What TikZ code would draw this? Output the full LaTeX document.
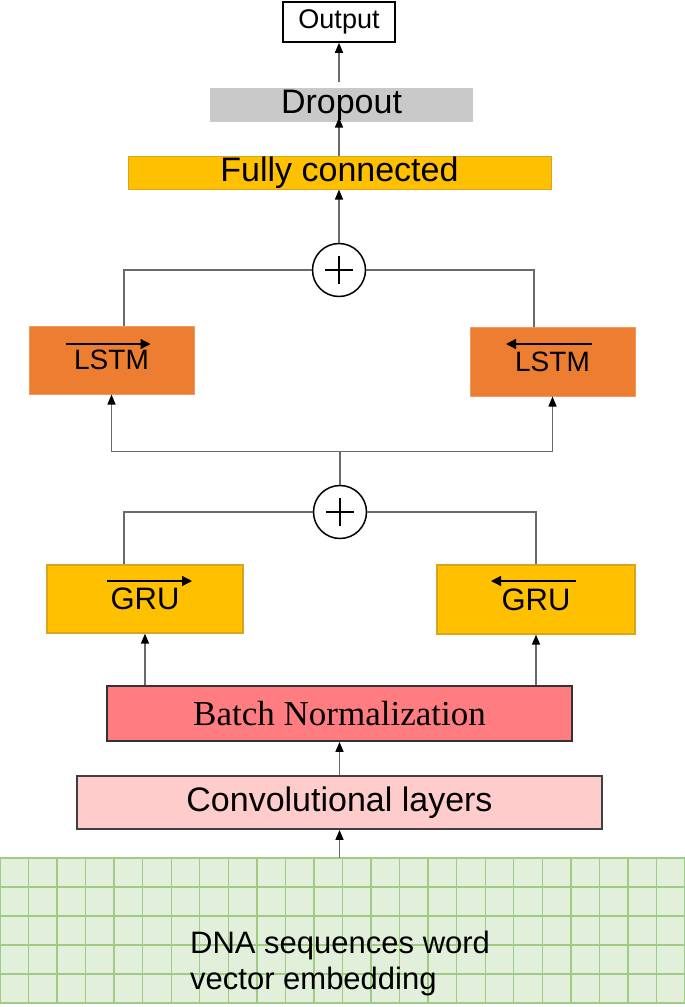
\documentclass[tikz,border=0pt]{standalone}
\usepackage{fontspec}
\setmainfont{Liberation Sans}
\newfontfamily\timesfont{Liberation Serif}
\usetikzlibrary{arrows.meta, positioning, calc}
\definecolor{gold}{HTML}{FFC000}
\definecolor{goldline}{HTML}{D9A520}
\definecolor{lstmfill}{HTML}{ED7D31}
\definecolor{lstmline}{HTML}{F19A5E}
\definecolor{bnfill}{HTML}{FF7C80}
\definecolor{convfill}{HTML}{FFCCCC}
\definecolor{dropgray}{HTML}{C9C9C9}
\definecolor{gridfill}{HTML}{E2EFDA}
\definecolor{gridline}{HTML}{9FCB83}
\definecolor{linkgray}{HTML}{6A6A6A}

\begin{document}
\begin{tikzpicture}[x=1pt, y=-1pt,
      block/.style = {rectangle, inner sep=0pt, line width=1pt},
       link/.style = {draw=linkgray, line width=1.4pt},
      arrow/.style = {link, -{Triangle[length=10pt,width=8pt,color=black]}},
      adder/.style = {circle, draw, line width=1.5pt, fill=white,
                      minimum size=53pt, inner sep=0pt,
                      path picture={\draw[line width=2.8pt]
                        ([xshift=-14pt]path picture bounding box.center) --
                        ([xshift=14pt]path picture bounding box.center)
                        ([yshift=-14pt]path picture bounding box.center) --
                        ([yshift=14pt]path picture bounding box.center);}},
   dirarrow/.style = {line width=1.3pt, -{Triangle[length=10pt,width=10pt]}}]
  \useasboundingbox (0,0) rectangle (685,1007);

  % embedding grid
  \node[block, fill=gridfill, minimum width=685pt, minimum height=145pt]
       (embed) at (342.5,930.5) {};
  \foreach \i in {0,...,24}
    \draw[gridline, line width=1.4pt] ({\i*28.5417},858) -- ({\i*28.5417},1003);
  \foreach \j in {0,...,5}
    \draw[gridline, line width=1.4pt] (0,858+\j*29) -- (685,858+\j*29);
  \node[anchor=north west, align=left, inner sep=0pt,
        font=\fontsize{31}{36}\selectfont] (embedtext) at (190,931)
       {DNA sequences word\\vector embedding};

  % layers
  \node[block, fill=convfill, draw=black!75, line width=1.8pt,
        minimum width=525pt, minimum height=53pt,
        font=\fontsize{34}{40}\selectfont] (conv) at (339.5,802.5) {Convolutional layers};
  \node[block, fill=bnfill, draw=black!80, line width=1.8pt,
        minimum width=465pt, minimum height=55pt,
        font=\timesfont\fontsize{35}{40}\selectfont] (bn) at (339.5,713.5) {Batch Normalization};
  \node[block, fill=gold, draw=goldline, line width=1.2pt,
        minimum width=196pt, minimum height=68pt,
        font=\fontsize{31}{34}\selectfont] (gruL) at (145,599) {GRU};
  \node[block, fill=gold, draw=goldline, line width=1.2pt,
        minimum width=198pt, minimum height=69pt,
        font=\fontsize{31}{34}\selectfont] (gruR) at (536,599.5) {GRU};
  \node[adder] (plus2) at (340,512) {};
  \node[block, fill=lstmfill, draw=lstmline,
        minimum width=165pt, minimum height=68pt,
        font=\fontsize{28}{32}\selectfont] (lstmL) at (111.5,360) {LSTM};
  \node[block, fill=lstmfill, draw=lstmline,
        minimum width=165pt, minimum height=69pt,
        font=\fontsize{28}{32}\selectfont] (lstmR) at (552.5,361.5) {LSTM};
  \node[adder] (plus1) at (339,270) {};
  \node[block, fill=gold, draw=goldline,
        minimum width=423pt, minimum height=33pt,
        font=\fontsize{34}{40}\selectfont] (fc) at (339.5,172.5) {Fully connected};
  \node[block, fill=dropgray,
        minimum width=263pt, minimum height=34pt,
        font=\fontsize{34}{40}\selectfont] (drop) at (341.5,105) {Dropout};
  \node[block, fill=white, draw=black, line width=1.5pt,
        minimum width=112pt, minimum height=40pt,
        font=\fontsize{27}{32}\selectfont] (out) at (339,22) {Output};

  % direction marks
  \draw[dirarrow] ($(gruL.center)+(-38,-18)$) -- ++(85,0);
  \draw[dirarrow] ($(gruR.center)+(40,-18.5)$) -- ++(-85,0);
  \draw[dirarrow] ($(lstmL.center)+(-46,-16)$) -- ++(85,0);
  \draw[dirarrow] ($(lstmR.center)+(39.5,-17.5)$) -- ++(-86,0);

  % connectors
  \draw[arrow] (embed.north -| conv.south) -- (conv.south);
  \draw[arrow] (conv.north) -- (bn.south);
  \draw[arrow] (bn.north -| gruL.south) -- (gruL.south);
  \draw[arrow] (bn.north -| gruR.south) -- (gruR.south);
  \draw[link] ($(gruL.north)+(-21,0)$) |- (plus2.west);
  \draw[link] (gruR.north) |- (plus2.east);
  \draw[link] (plus2.north) -- ++(0,-33) coordinate (split);
  \draw[arrow] (split) -| (lstmL.south);
  \draw[arrow] (split) -| (lstmR.south);
  \draw[link] ($(lstmL.north)+(12.5,0)$) |- (plus1.west);
  \draw[link] ($(lstmR.north)+(-18.5,0)$) |- (plus1.east);
  \draw[arrow] (plus1.north) -- (plus1.north |- fc.south);
  \draw[arrow, shorten >=-5pt] (fc.north -| plus1.north) -- (plus1.north |- drop.south);
  \draw[arrow, shorten <=6pt] (drop.north -| out.south) -- (out.south);
\end{tikzpicture}
\end{document}
